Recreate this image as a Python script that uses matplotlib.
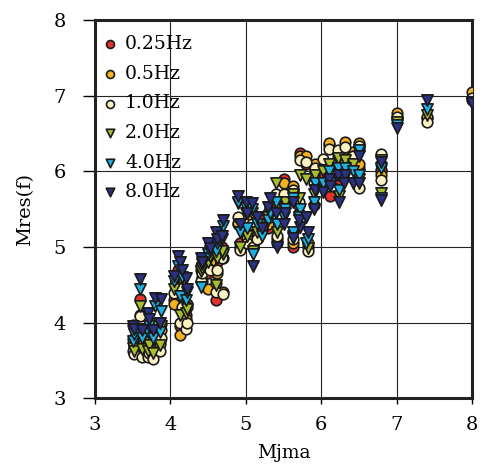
import numpy as np
import matplotlib.pyplot as plt

# ----------------------------------------
# Data: one entry per event (Mjma) and Mres(f) for each frequency
# ----------------------------------------
mjma = [3.50, 3.52, 3.60, 3.62, 3.70, 3.72, 3.80, 3.77, 3.88, 3.86,
        4.05, 4.10, 4.12, 4.20, 4.22, 4.15,
        4.40, 4.42, 4.50, 4.52, 4.60, 4.62, 4.70, 4.68,
        4.90, 4.92, 5.00, 5.02, 5.10, 5.08, 5.15,
        5.22, 5.30, 5.32, 5.40, 5.42, 5.50, 5.52, 5.62, 5.63, 5.72,
        5.70, 5.80, 5.82, 5.90, 5.92,
        6.02, 6.10, 6.12, 6.22, 6.23, 6.32, 6.30, 6.42, 6.50, 6.50,
        6.80, 6.80, 7.00, 7.40, 8.00]

mres_025 = [3.97, 3.70, 4.31, 3.75, 3.72, 3.80, 3.85, 3.70, 3.98, 3.75,
            4.30, 4.69, 3.95, 4.10, 4.25, 4.45,
            4.75, 4.60, 4.65, 4.85, 4.30, 4.80, 4.85, 5.00,
            5.30, 5.05, 5.15, 5.25, 5.05, 5.40, 5.20,
            5.35, 5.25, 5.48, 5.60, 5.05, 5.90, 5.65, 5.00, 5.75, 6.24,
            5.45, 6.10, 5.00, 5.55, 6.05,
            5.95, 6.35, 5.68, 6.20, 5.90, 6.30, 6.05, 6.20, 6.30, 6.05,
            6.00, 6.02, 6.70, 6.70, 6.95]

mres_05 = [3.78, 3.68, 4.10, 3.70, 3.68, 3.75, 3.82, 3.65, 3.90, 3.72,
           4.25, 4.55, 3.83, 4.05, 4.20, 4.42,
           4.70, 4.55, 4.45, 4.80, 4.52, 4.66, 4.40, 4.95,
           5.32, 5.00, 5.20, 5.12, 5.00, 5.35, 5.15,
           5.30, 5.30, 5.45, 5.55, 5.10, 5.85, 5.60, 5.05, 5.80, 6.20,
           5.55, 6.20, 5.05, 5.95, 6.10,
           6.05, 6.37, 6.00, 6.25, 6.05, 6.39, 6.10, 6.25, 6.37, 6.10,
           6.10, 5.95, 6.77, 6.72, 7.05]

mres_1 = [3.62, 3.58, 4.08, 3.55, 3.55, 3.60, 3.79, 3.52, 3.80, 3.62,
          4.39, 4.47, 3.99, 3.92, 4.00, 4.20,
          4.55, 4.65, 4.72, 4.70, 4.40, 4.70, 4.38, 4.85,
          5.40, 4.96, 5.30, 5.05, 5.00, 5.30, 5.10,
          5.25, 5.45, 5.40, 5.70, 5.15, 5.70, 5.55, 5.10, 5.75, 6.15,
          5.60, 6.12, 4.95, 5.85, 6.05,
          6.17, 6.30, 5.95, 6.28, 5.95, 6.32, 6.00, 6.20, 6.33, 5.78,
          6.23, 5.88, 6.72, 6.65, 6.97]

mres_2 = [3.66, 3.62, 4.22, 3.65, 3.62, 3.70, 3.98, 3.60, 3.95, 3.70,
          4.45, 4.62, 4.10, 4.13, 4.18, 4.35,
          4.68, 4.72, 4.80, 4.88, 4.50, 4.85, 4.90, 4.95,
          5.58, 5.00, 5.45, 5.15, 4.95, 5.45, 5.20,
          5.20, 5.40, 5.48, 5.85, 5.20, 5.50, 5.60, 5.15, 5.70, 5.95,
          5.65, 5.90, 4.98, 5.70, 5.95,
          6.00, 6.10, 5.90, 6.18, 5.68, 6.15, 5.95, 6.10, 6.25, 5.90,
          6.15, 5.71, 6.65, 6.74, 6.92]

mres_4 = [3.75, 3.85, 4.44, 3.80, 3.88, 3.95, 4.22, 3.80, 4.15, 3.88,
          4.55, 4.75, 4.35, 4.30, 4.40, 4.60,
          4.47, 4.78, 4.90, 4.95, 4.95, 5.05, 5.28, 5.10,
          5.60, 5.20, 5.52, 5.25, 4.90, 5.50, 5.30,
          5.15, 5.35, 5.45, 5.60, 5.30, 5.40, 5.50, 5.20, 5.65, 5.50,
          5.40, 5.05, 5.10, 5.60, 5.85,
          5.85, 6.00, 5.85, 6.05, 5.75, 6.05, 5.90, 6.00, 6.28, 5.95,
          6.05, 5.65, 6.62, 6.83, 6.91]

mres_8 = [3.95, 3.92, 4.57, 3.90, 4.12, 4.05, 4.32, 3.90, 4.31, 4.00,
          4.62, 4.88, 4.80, 4.59, 4.45, 4.70,
          4.85, 4.80, 5.05, 4.98, 5.20, 5.10, 5.35, 5.15,
          5.68, 5.30, 5.60, 5.45, 4.75, 5.58, 5.40,
          5.25, 5.53, 5.65, 5.45, 5.00, 5.30, 5.45, 5.12, 5.60, 5.27,
          5.35, 5.40, 5.20, 5.50, 5.75,
          5.73, 5.90, 5.80, 5.95, 5.60, 5.95, 5.84, 5.84, 6.20, 5.85,
          6.12, 5.62, 6.58, 6.94, 6.90]

labels = ['0.25Hz', '0.5Hz', '1.0Hz', '2.0Hz', '4.0Hz', '8.0Hz']
series = [mres_025, mres_05, mres_1, mres_2, mres_4, mres_8]
colors = ['#e3322b', '#f4b223', '#fcf1c2', '#a9bd2e', '#1fb1e3', '#2b3183']
markers = ['o', 'o', 'o', 'v', 'v', 'v']

# ----------------------------------------
# Plot
# ----------------------------------------
plt.rcParams['font.family'] = 'DejaVu Serif'

fig, ax = plt.subplots(figsize=(4.83, 4.70), dpi=100)
fig.subplots_adjust(left=0.197, right=0.977, bottom=0.153, top=0.957)

for vals, lab, col, mk in zip(series, labels, colors, markers):
    size = 58 if mk == 'o' else 66
    ax.scatter(mjma, vals, s=size, marker=mk, facecolor=col,
               edgecolor='#1a1a1a', linewidth=1.2, label=lab, zorder=3)

ax.set_xlim(3, 8)
ax.set_ylim(3, 8)
ax.set_xticks(np.arange(3, 9, 1))
ax.set_yticks(np.arange(3, 9, 1))
ax.grid(True, color='#222222', linewidth=0.8, zorder=0)
ax.set_axisbelow(True)

for sp in ax.spines.values():
    sp.set_linewidth(2.2)
    sp.set_color('#222222')

ax.tick_params(axis='x', direction='out', length=4, width=1.0, labelsize=14, pad=9)
ax.tick_params(axis='y', direction='out', length=9, width=1.0, labelsize=14, pad=12)
ax.set_xlabel('Mjma', fontsize=13.5, labelpad=7)
ax.set_ylabel('Mres(f)', fontsize=14, labelpad=14)

leg = ax.legend(loc='upper left', bbox_to_anchor=(-0.015, 0.99), frameon=False,
                fontsize=13.5, handletextpad=0.3, borderaxespad=0.0,
                borderpad=0.6, labelspacing=0.62, handlelength=1.0,
                markerscale=0.75)

plt.savefig('out.png', dpi=100)
